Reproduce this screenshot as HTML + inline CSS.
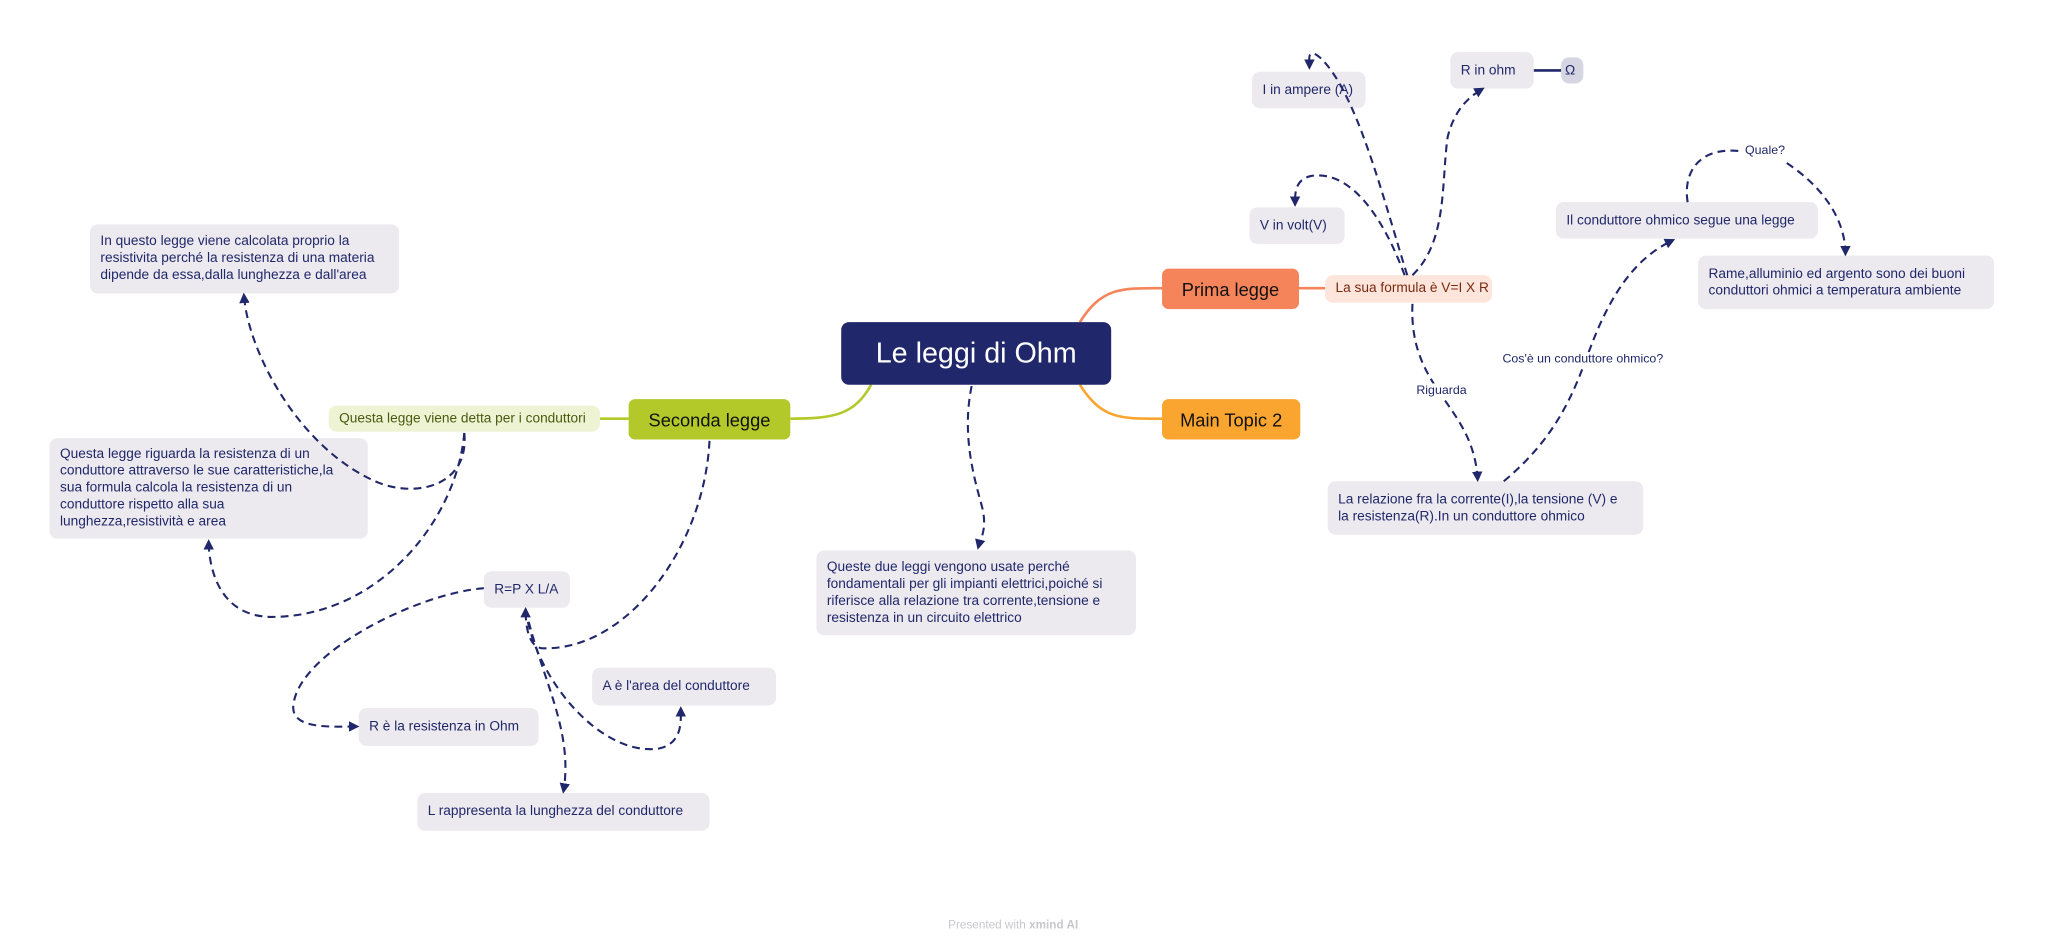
<!DOCTYPE html>
<html><head><meta charset="utf-8">
<style>
html,body{margin:0;padding:0;background:#fff;width:2045px;height:952px;overflow:hidden}
#w{position:absolute;left:0;top:0;width:1568px;height:730px;transform:scale(1.3042);transform-origin:0 0;font-family:"Liberation Sans",sans-serif}
.b{position:absolute;box-sizing:border-box;border-radius:6px;background:#eceaee;color:#20276a;font-size:10.5px;line-height:13px;padding:0 8px;display:flex;align-items:center;white-space:nowrap}
.m{position:absolute;box-sizing:border-box;border-radius:5px;display:flex;align-items:center;justify-content:center;font-size:14px;color:#111}
.l{position:absolute;font-size:10px;color:#20276a;white-space:nowrap;background:#fff}
svg{position:absolute;left:0;top:0}
</style></head><body><div id="w">
<svg width="1568" height="730" viewBox="0 0 1568 730">
<g fill="none" stroke-width="2">
<path d="M828,247 C845,220 860,221 891,221" stroke="#f5845a"/>
<path d="M996,221 L1016,221" stroke="#f5845a"/>
<path d="M828,295 C845,322 860,321 891,321" stroke="#f9a530"/>
<path d="M668,295 C655,318 640,321 606,321" stroke="#b3c92a"/>
<path d="M460,321 L482,321" stroke="#b3c92a"/>
<path d="M1176,54 L1197,54" stroke="#20276a"/>
</g>
</svg>
<div class="m" style="left:645px;top:247px;width:207px;height:48px;background:#20276a;color:#fff;font-size:22px;border-radius:6px">Le leggi di Ohm</div>
<div class="m" style="left:891px;top:206px;width:105px;height:31px;background:#f5845a">Prima legge</div>
<div class="m" style="left:891px;top:306px;width:106px;height:31px;background:#f9a530">Main Topic 2</div>
<div class="m" style="left:482px;top:306px;width:124px;height:31px;background:#b3c92a">Seconda legge</div>
<div class="b" style="left:1016px;top:211px;width:128px;height:21px;background:#fde5dc;color:#7a2a10;font-size:10.5px">La sua formula è V=I X R</div>
<div class="b" style="left:252px;top:311px;width:208px;height:20px;background:#eef3d4;color:#4a5a10">Questa legge viene detta per i conduttori</div>
<div class="b" style="left:69px;top:172px;width:237px;height:53px">In questo legge viene calcolata proprio la<br>resistivita perché la resistenza di una materia<br>dipende da essa,dalla lunghezza e dall'area</div>
<div class="b" style="left:38px;top:336px;width:244px;height:77px">Questa legge riguarda la resistenza di un<br>conduttore attraverso le sue caratteristiche,la<br>sua formula calcola la resistenza di un<br>conduttore rispetto alla sua<br>lunghezza,resistività e area</div>
<div class="b" style="left:371px;top:438px;width:66px;height:28px">R=P X L/A</div>
<div class="b" style="left:454px;top:512px;width:141px;height:29px">A è l'area del conduttore</div>
<div class="b" style="left:275px;top:543px;width:138px;height:29px">R è la resistenza in Ohm</div>
<div class="b" style="left:320px;top:608px;width:224px;height:29px">L rappresenta la lunghezza del conduttore</div>
<div class="b" style="left:626px;top:422px;width:245px;height:65px">Queste due leggi vengono usate perché<br>fondamentali per gli impianti elettrici,poiché si<br>riferisce alla relazione tra corrente,tensione e<br>resistenza in un circuito elettrico</div>
<div class="b" style="left:960px;top:55px;width:87px;height:28px">I in ampere (A)</div>
<div class="b" style="left:1112px;top:40px;width:64px;height:28px">R in ohm</div>
<div class="b" style="left:1197px;top:44px;width:17px;height:20px;background:#d6d6e3;padding:0 3px">Ω</div>
<div class="b" style="left:958px;top:159px;width:73px;height:28px">V in volt(V)</div>
<div class="b" style="left:1193px;top:155px;width:201px;height:28px">Il conduttore ohmico segue una legge</div>
<div class="b" style="left:1302px;top:196px;width:227px;height:41px">Rame,alluminio ed argento sono dei buoni<br>conduttori ohmici a temperatura ambiente</div>
<div class="b" style="left:1018px;top:369px;width:242px;height:41px">La relazione fra la corrente(I),la tensione (V) e<br>la resistenza(R).In un conduttore ohmico</div>
<svg width="1568" height="730" viewBox="0 0 1568 730">
<defs><marker id="a" viewBox="0 0 10 10" refX="8" refY="5" markerWidth="5" markerHeight="5" orient="auto"><path d="M0,0L10,5L0,10z" fill="#20276a"/></marker></defs>
<g fill="none" stroke="#20276a" stroke-width="1.6" stroke-dasharray="6,4" marker-end="url(#a)">
<path d="M1079,211 C1060,150 1040,70 1012,44 C1002,36 1004,45 1004,52"/>
<path d="M1077,211 C1060,165 1035,130 1005,135 C992,138 993,150 993,157"/>
<path d="M1083,211 C1110,185 1105,140 1110,105 C1115,85 1125,75 1137,68"/>
<path d="M1083,233 C1080,300 1130,310 1133,368"/>
<path d="M1153,369 C1200,330 1210,290 1222,260 C1240,215 1260,195 1283,184"/>
<path d="M1370,125 C1400,145 1415,170 1415,195"/>
<path d="M745,296 C738,330 745,360 752,385 C758,405 752,412 750,420"/>
<path d="M544,338 C540,420 480,500 415,497 C405,495 403,480 403,467"/>
<path d="M403,467 C410,520 460,580 505,574 C524,570 522,552 522,543"/>
<path d="M403,467 C415,520 440,560 432,607"/>
<path d="M371,451 C320,455 230,500 225,540 C222,560 255,557 274,557"/>
<path d="M356,332 C360,372 320,382 290,370 C230,345 190,270 187,226"/>
<path d="M356,332 C350,400 290,472 210,473 C165,474 160,430 160,415"/>
</g>
<path d="M1294,155 C1290,130 1305,112 1335,116" fill="none" stroke="#20276a" stroke-width="1.6" stroke-dasharray="6,4"/>
</svg>
<div class="l" style="left:1338px;top:110px;font-size:9.5px">Quale?</div>
<div class="l" style="left:1152px;top:270px;font-size:9.5px">Cos'è un conduttore ohmico?</div>
<div class="l" style="left:1086px;top:294px;font-size:9.5px">Riguarda</div>
<div class="l" style="left:727px;top:704px;font-size:9px;color:#c8c8cc">Presented with <b>xmind AI</b></div>
</div></body></html>
